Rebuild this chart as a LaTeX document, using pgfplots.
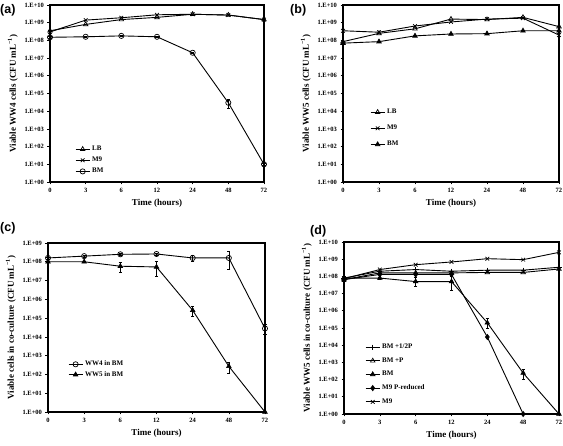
\documentclass[border=0pt]{standalone}
\usepackage{pgfplots}
\pgfplotsset{compat=1.18}
\usepackage{fontspec}
\setmainfont{Liberation Serif}
\newfontfamily\panelfont{Liberation Sans}

\pgfplotsset{
 every axis/.append style={
  scale only axis,
  axis line style={line width=1.1pt},
  tick align=outside, xtick pos=bottom, ytick pos=left,
  major tick length=2.5pt,
  tick style={black, line width=0.6pt},
  tick label style={font=\bfseries\fontsize{6.5}{7}\selectfont},
  label style={font=\bfseries\fontsize{9}{10}\selectfont},
  legend cell align=left,
  legend style={draw=none, fill=none, inner sep=0pt, anchor=north west,
    font=\bfseries\fontsize{7}{8}\selectfont},
 },
 every axis plot/.append style={black, line width=0.9pt, mark size=2.6pt,
    mark options={solid, line width=0.7pt}},
 legend image code/.code={\draw[mark repeat=2,mark phase=2] plot coordinates {(0pt,0pt)(7pt,0pt)(14pt,0pt)};},
}

\begin{document}
\begin{tikzpicture}
\path[use as bounding box] (0pt,0pt) rectangle (563pt,-446pt);

% (a)
\begin{axis}[anchor=north west, at={(50pt,-5pt)}, width=214pt, height=177pt,
  ymode=log, xmin=0, xmax=6, ymin=1, ymax=1e10, clip=false,
  xtick={0,1,2,3,4,5,6}, xticklabels={0,3,6,12,24,48,72},
  ytick={1,10,100,1000,1e4,1e5,1e6,1e7,1e8,1e9,1e10},
  yticklabels={1.E+00,1.E+01,1.E+02,1.E+03,1.E+04,1.E+05,1.E+06,1.E+07,1.E+08,1.E+09,1.E+10},
  yminorticks=false,
  xlabel={Time (hours)},
  ylabel={Viable WW4 cells (CFU mL\textsuperscript{−1})},
  legend style={at={(rel axis cs:0.117,0.215)}, row sep=1pt}]
\addplot[mark=triangle] coordinates {(0,3.5e8)(1,8e8)(2,1.5e9)(3,2e9)(4,3e9)(5,2.7e9)(6,1.5e9)};
\addlegendentry{LB}
\addplot[mark=x] coordinates {(0,3e8)(1,1.4e9)(2,1.9e9)(3,2.8e9)(4,3e9)(5,2.7e9)(6,1.5e9)};
\addlegendentry{M9}
\addplot[mark=o, error bars/.cd, y dir=both, y explicit,
  error bar style={line width=0.6pt}, error mark options={rotate=90, mark size=1.6pt, line width=0.6pt}]
 coordinates {(0,1.5e8) +- (0,1e7) (1,1.6e8) +- (0,1e7) (2,1.8e8) +- (0,1e7) (3,1.6e8) +- (0,1e7)
 (4,2e7) +- (0,2e6) (5,3e4) += (0,2e4) -= (0,1.5e4) (6,10) +- (0,1)};
\addlegendentry{BM}
\end{axis}

% (b)
\begin{axis}[anchor=north west, at={(343pt,-5pt)}, width=216pt, height=177pt,
  ymode=log, xmin=0, xmax=6, ymin=1, ymax=1e10, clip=false,
  xtick={0,1,2,3,4,5,6}, xticklabels={0,3,6,12,24,48,72},
  ytick={1,10,100,1000,1e4,1e5,1e6,1e7,1e8,1e9,1e10},
  yticklabels={1.E+00,1.E+01,1.E+02,1.E+03,1.E+04,1.E+05,1.E+06,1.E+07,1.E+08,1.E+09,1.E+10},
  yminorticks=false,
  xlabel={Time (hours)},
  ylabel={Viable WW5 cells (CFU mL\textsuperscript{−1})},
  legend style={at={(rel axis cs:0.125,0.424)}, row sep=6pt}]
\addplot[mark=triangle] coordinates {(0,8.5e7)(1,2.5e8)(2,4.5e8)(3,1.6e9)(4,1.5e9)(5,2e9)(6,6e8)};
\addlegendentry{LB}
\addplot[mark=x] coordinates {(0,3.5e8)(1,2.9e8)(2,6.5e8)(3,1.1e9)(4,1.6e9)(5,1.8e9)(6,2e8)};
\addlegendentry{M9}
\addplot[mark=triangle*] coordinates {(0,7e7)(1,8.5e7)(2,1.8e8)(3,2.3e8)(4,2.4e8)(5,3.5e8)(6,3.5e8)};
\addlegendentry{BM}
\end{axis}

% (c)
\begin{axis}[anchor=north west, at={(48pt,-243pt)}, width=217pt, height=169pt,
  ymode=log, xmin=0, xmax=6, ymin=1, ymax=1e9, clip=false,
  xtick={0,1,2,3,4,5,6}, xticklabels={0,3,6,12,24,48,72},
  ytick={1,10,100,1000,1e4,1e5,1e6,1e7,1e8,1e9},
  yticklabels={1.E+00,1.E+01,1.E+02,1.E+03,1.E+04,1.E+05,1.E+06,1.E+07,1.E+08,1.E+09},
  yminorticks=false,
  xlabel={Time (hours)},
  ylabel={Viable cells in co-culture (CFU mL\textsuperscript{−1})},
  legend style={at={(rel axis cs:0.092,0.314)}, row sep=0pt}]
\addplot[mark=o, error bars/.cd, y dir=both, y explicit,
  error bar style={line width=0.6pt}, error mark options={rotate=90, mark size=1.6pt, line width=0.6pt}]
 coordinates {(0,1.6e8) +- (0,2e7) (1,2e8) +- (0,3e7) (2,2.5e8) +- (0,3e7) (3,2.6e8) +- (0,4e7)
 (4,1.6e8) += (0,7e7) -= (0,5e7) (5,1.6e8) += (0,1.8e8) -= (0,1.2e8) (6,2.8e4) += (0,2.1e4) -= (0,1.5e4)};
\addlegendentry{WW4 in BM}
\addplot[mark=triangle*, error bars/.cd, y dir=both, y explicit,
  error bar style={line width=0.6pt}, error mark options={rotate=90, mark size=1.6pt, line width=0.6pt}]
 coordinates {(0,1e8) +- (0,1e7) (1,1e8) +- (0,1e7) (2,5.8e7) += (0,3.5e7) -= (0,2.9e7) (3,5.3e7) += (0,4.7e7) -= (0,3.7e7)
 (4,2.6e5) += (0,1.7e5) -= (0,1.3e5) (5,270) += (0,175) -= (0,160) (6,1) +- (0,0)};
\addlegendentry{WW5 in BM}
\end{axis}

% (d)
\begin{axis}[anchor=north west, at={(344pt,-242pt)}, width=215pt, height=172pt,
  ymode=log, xmin=0, xmax=6, ymin=1, ymax=1e10, clip=false,
  xtick={0,1,2,3,4,5,6}, xticklabels={0,3,6,12,24,48,72},
  ytick={1,10,100,1000,1e4,1e5,1e6,1e7,1e8,1e9,1e10},
  yticklabels={1.E+00,1.E+01,1.E+02,1.E+03,1.E+04,1.E+05,1.E+06,1.E+07,1.E+08,1.E+09,1.E+10},
  yminorticks=false,
  xlabel={Time (hours)},
  ylabel={Viable WW5 cells in co-culture (CFU mL\textsuperscript{−1})},
  legend style={at={(rel axis cs:0.098,0.419)}, row sep=3.5pt}]
\addplot[mark=+] coordinates {(0,8e7)(1,2e8)(2,2.5e8)(3,2e8)(4,2.3e8)(5,2.3e8)(6,3.4e8)};
\addlegendentry{BM +1/2P}
\addplot[mark=triangle] coordinates {(0,6.5e7)(1,1.6e8)(2,1.6e8)(3,1.6e8)(4,1.7e8)(5,1.7e8)(6,2.7e8)};
\addlegendentry{BM +P}
\addplot[mark=triangle*, error bars/.cd, y dir=both, y explicit,
  error bar style={line width=0.6pt}, error mark options={rotate=90, mark size=1.6pt, line width=0.6pt}]
 coordinates {(0,8e7) += (0,2e7) -= (0,3e7) (1,8e7) +- (0,1e7) (2,5e7) += (0,3.5e7) -= (0,2.5e7) (3,5e7) += (0,4.7e7) -= (0,3.5e7)
 (4,2e5) += (0,1.7e5) -= (0,1.1e5) (5,240) += (0,175) -= (0,140) (6,1) +- (0,0)};
\addlegendentry{BM}
\addplot[mark=diamond*] coordinates {(0,6.5e7)(1,1.3e8)(2,1.3e8)(3,1.3e8)(4,3e4)(5,1)};
\addlegendentry{M9 P-reduced}
\addplot[mark=x] coordinates {(0,7.4e7)(1,2.5e8)(2,4.8e8)(3,6.9e8)(4,1.07e9)(5,9.4e8)(6,2.5e9)};
\addlegendentry{M9}
\end{axis}

\node[anchor=north west, inner sep=0pt, font=\panelfont\bfseries\fontsize{12.5}{13}\selectfont] at (0pt,-4pt) {(a)};
\node[anchor=north west, inner sep=0pt, font=\panelfont\bfseries\fontsize{12.5}{13}\selectfont] at (290pt,-4pt) {(b)};
\node[anchor=north west, inner sep=0pt, font=\panelfont\bfseries\fontsize{12.5}{13}\selectfont] at (0pt,-222pt) {(c)};
\node[anchor=north west, inner sep=0pt, font=\panelfont\bfseries\fontsize{12.5}{13}\selectfont] at (310pt,-225pt) {(d)};
\end{tikzpicture}
\end{document}
